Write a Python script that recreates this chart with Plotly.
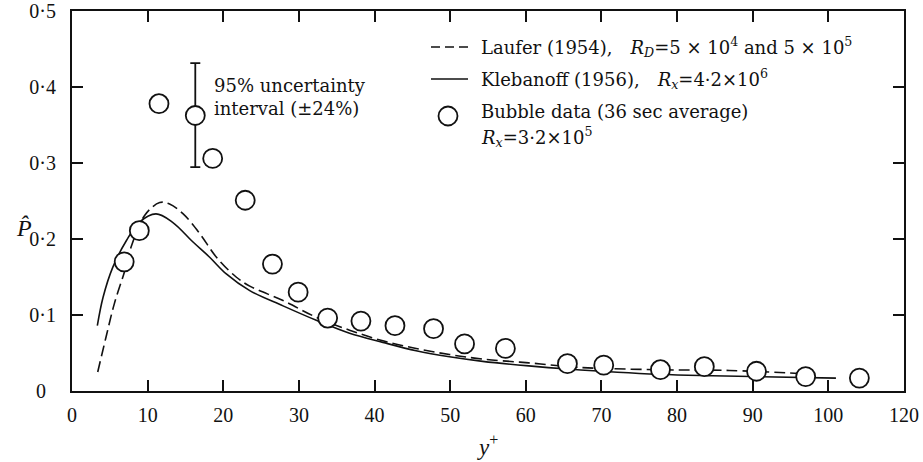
import plotly.graph_objects as go

# ---------------- data ----------------
bubble_x = [6.9, 8.9, 11.5, 16.3, 18.6, 22.9, 26.5, 29.9, 33.8, 38.2, 42.7,
            47.8, 51.9, 57.3, 65.5, 70.3, 77.8, 83.6, 90.5, 97.0, 104.1]
bubble_y = [0.170, 0.211, 0.378, 0.3625, 0.306, 0.251, 0.167, 0.130, 0.096,
            0.092, 0.086, 0.082, 0.062, 0.056, 0.036, 0.034, 0.028, 0.032,
            0.026, 0.019, 0.017]

err_x = [16.3]
err_y = [0.3625]
err_plus = [0.069]
err_minus = [0.068]

laufer_x = [3.4, 4.5, 5.6, 7.0, 7.8, 9.6, 11.6, 12.9, 14.7, 16.9, 19.1, 21.7,
            23.5, 27.9, 32.3, 36.7, 41.1, 45.5, 49.9, 54.3, 60.4, 67.1, 77.6,
            86.9, 96.1]
laufer_y = [0.025, 0.071, 0.115, 0.159, 0.189, 0.231, 0.248, 0.246, 0.233,
            0.207, 0.176, 0.150, 0.138, 0.119, 0.097, 0.080, 0.066, 0.056,
            0.048, 0.042, 0.037, 0.031, 0.028, 0.027, 0.023]

kleb_x = [3.35, 4.1, 5.4, 7.2, 8.9, 11.1, 13.3, 16.0, 18.2, 20.4, 23.5, 27.9,
          32.3, 36.7, 41.1, 45.5, 49.9, 54.3, 60.4, 65.5, 77.6, 84.6, 101.0]
kleb_y = [0.086, 0.123, 0.163, 0.198, 0.222, 0.233, 0.222, 0.196, 0.176,
          0.154, 0.132, 0.112, 0.093, 0.076, 0.064, 0.053, 0.045, 0.039,
          0.033, 0.029, 0.022, 0.020, 0.017]

x_tickvals = [0, 10, 20, 30, 40, 50, 60, 70, 80, 90, 100, 110]
x_ticktext = ["0", "10", "20", "30", "40", "50", "60", "70", "80", "90", "100", "120"]
y_tickvals = [0, 0.1, 0.2, 0.3, 0.4, 0.5]
y_ticktext = ["0\u2002", "0·1", "0·2", "0·3", "0·4", "0·5"]

legend_texts = [
    "Laufer (1954),\u2003<i>R<sub>D</sub></i>=5 × 10<sup>4</sup> and 5 × 10<sup>5</sup>",
    "Klebanoff (1956),\u2003<i>R<sub>x</sub></i>=4·2×10<sup>6</sup>",
    "Bubble data (36 sec average)",
    "<i>R<sub>x</sub></i>=3·2×10<sup>5</sup>",
]
note_text = "95% uncertainty<br>interval (±24%)"

# ---------------- layout geometry ----------------
W, H = 923, 462
ML, MR, MT, MB = 72, 19, 11, 71
PW, PH = W - ML - MR, H - MT - MB


def px(p):
    return (p - ML) / PW


def py(p):
    return (H - MB - p) / PH


TICKFONT = "Liberation Serif, Times New Roman, serif"
TEXTFONT = "DejaVu Serif, serif"
BLACK = "#111"

fig = go.Figure()

fig.add_trace(go.Scatter(x=laufer_x, y=laufer_y, mode="lines",
                         line=dict(color=BLACK, width=1.6, dash="11px,5px", shape="spline"),
                         showlegend=False, hoverinfo="skip"))
fig.add_trace(go.Scatter(x=kleb_x, y=kleb_y, mode="lines",
                         line=dict(color=BLACK, width=1.6, shape="spline"),
                         showlegend=False, hoverinfo="skip"))
fig.add_trace(go.Scatter(x=err_x, y=err_y, mode="markers",
                         marker=dict(size=1, color="rgba(0,0,0,0)"),
                         error_y=dict(type="data", symmetric=False, array=err_plus,
                                      arrayminus=err_minus, color=BLACK,
                                      thickness=1.8, width=5),
                         showlegend=False, hoverinfo="skip"))
fig.add_trace(go.Scatter(x=bubble_x, y=bubble_y, mode="markers",
                         marker=dict(size=19, color="white",
                                     line=dict(color=BLACK, width=1.8)),
                         showlegend=False, cliponaxis=False))

axis_common = dict(showgrid=False, zeroline=False, showline=True, linecolor=BLACK,
                   linewidth=2, mirror="ticks", ticks="inside", ticklen=11,
                   tickwidth=2, tickcolor=BLACK, automargin=False,
                   tickfont=dict(family=TICKFONT, size=20, color=BLACK))

fig.update_layout(
    width=W, height=H,
    margin=dict(l=ML, r=MR, t=MT, b=MB, pad=0),
    paper_bgcolor="white", plot_bgcolor="white",
    xaxis=dict(range=[0, 110], tickmode="array", tickvals=x_tickvals,
               ticktext=x_ticktext, ticklabelstandoff=5, **axis_common),
    yaxis=dict(range=[0, 0.5], tickmode="array", tickvals=y_tickvals,
               ticktext=y_ticktext, ticklabelstandoff=10, **axis_common),
)

# legend samples
legend_rows_y = [47, 79, 111, 137]
dash_y = py(legend_rows_y[0])
fig.add_shape(type="line", xref="paper", yref="paper", x0=px(431), x1=px(468),
              y0=dash_y, y1=dash_y, line=dict(color=BLACK, width=1.6, dash="9px,5px"))
solid_y = py(legend_rows_y[1])
fig.add_shape(type="line", xref="paper", yref="paper", x0=px(431), x1=px(468),
              y0=solid_y, y1=solid_y, line=dict(color=BLACK, width=1.6))
cy = legend_rows_y[2] + 5
fig.add_shape(type="circle", xref="paper", yref="paper",
              x0=px(438.5), x1=px(457.5), y0=py(cy + 9.5), y1=py(cy - 9.5),
              line=dict(color=BLACK, width=1.8), fillcolor="white")

for txt, yy in zip(legend_texts, legend_rows_y):
    fig.add_annotation(text=txt, xref="paper", yref="paper", x=px(479), y=py(yy),
                       xanchor="left", yanchor="middle", showarrow=False,
                       font=dict(family=TEXTFONT, size=18, color=BLACK))

fig.add_annotation(text=note_text, xref="paper", yref="paper", x=px(212), y=py(97),
                   xanchor="left", yanchor="middle", showarrow=False, align="left",
                   font=dict(family=TEXTFONT, size=18, color=BLACK))

# axis titles
fig.add_annotation(text="<i>P\u0302</i>", xref="paper", yref="paper", x=px(24), y=py(228),
                   xanchor="center", yanchor="middle", showarrow=False,
                   font=dict(family=TICKFONT, size=24, color=BLACK))
fig.add_annotation(text="<i>y</i><sup>+</sup>", xref="paper", yref="paper", x=px(487), y=py(445),
                   xanchor="center", yanchor="middle", showarrow=False,
                   font=dict(family=TICKFONT, size=23, color=BLACK))

fig.write_html("out.html")
